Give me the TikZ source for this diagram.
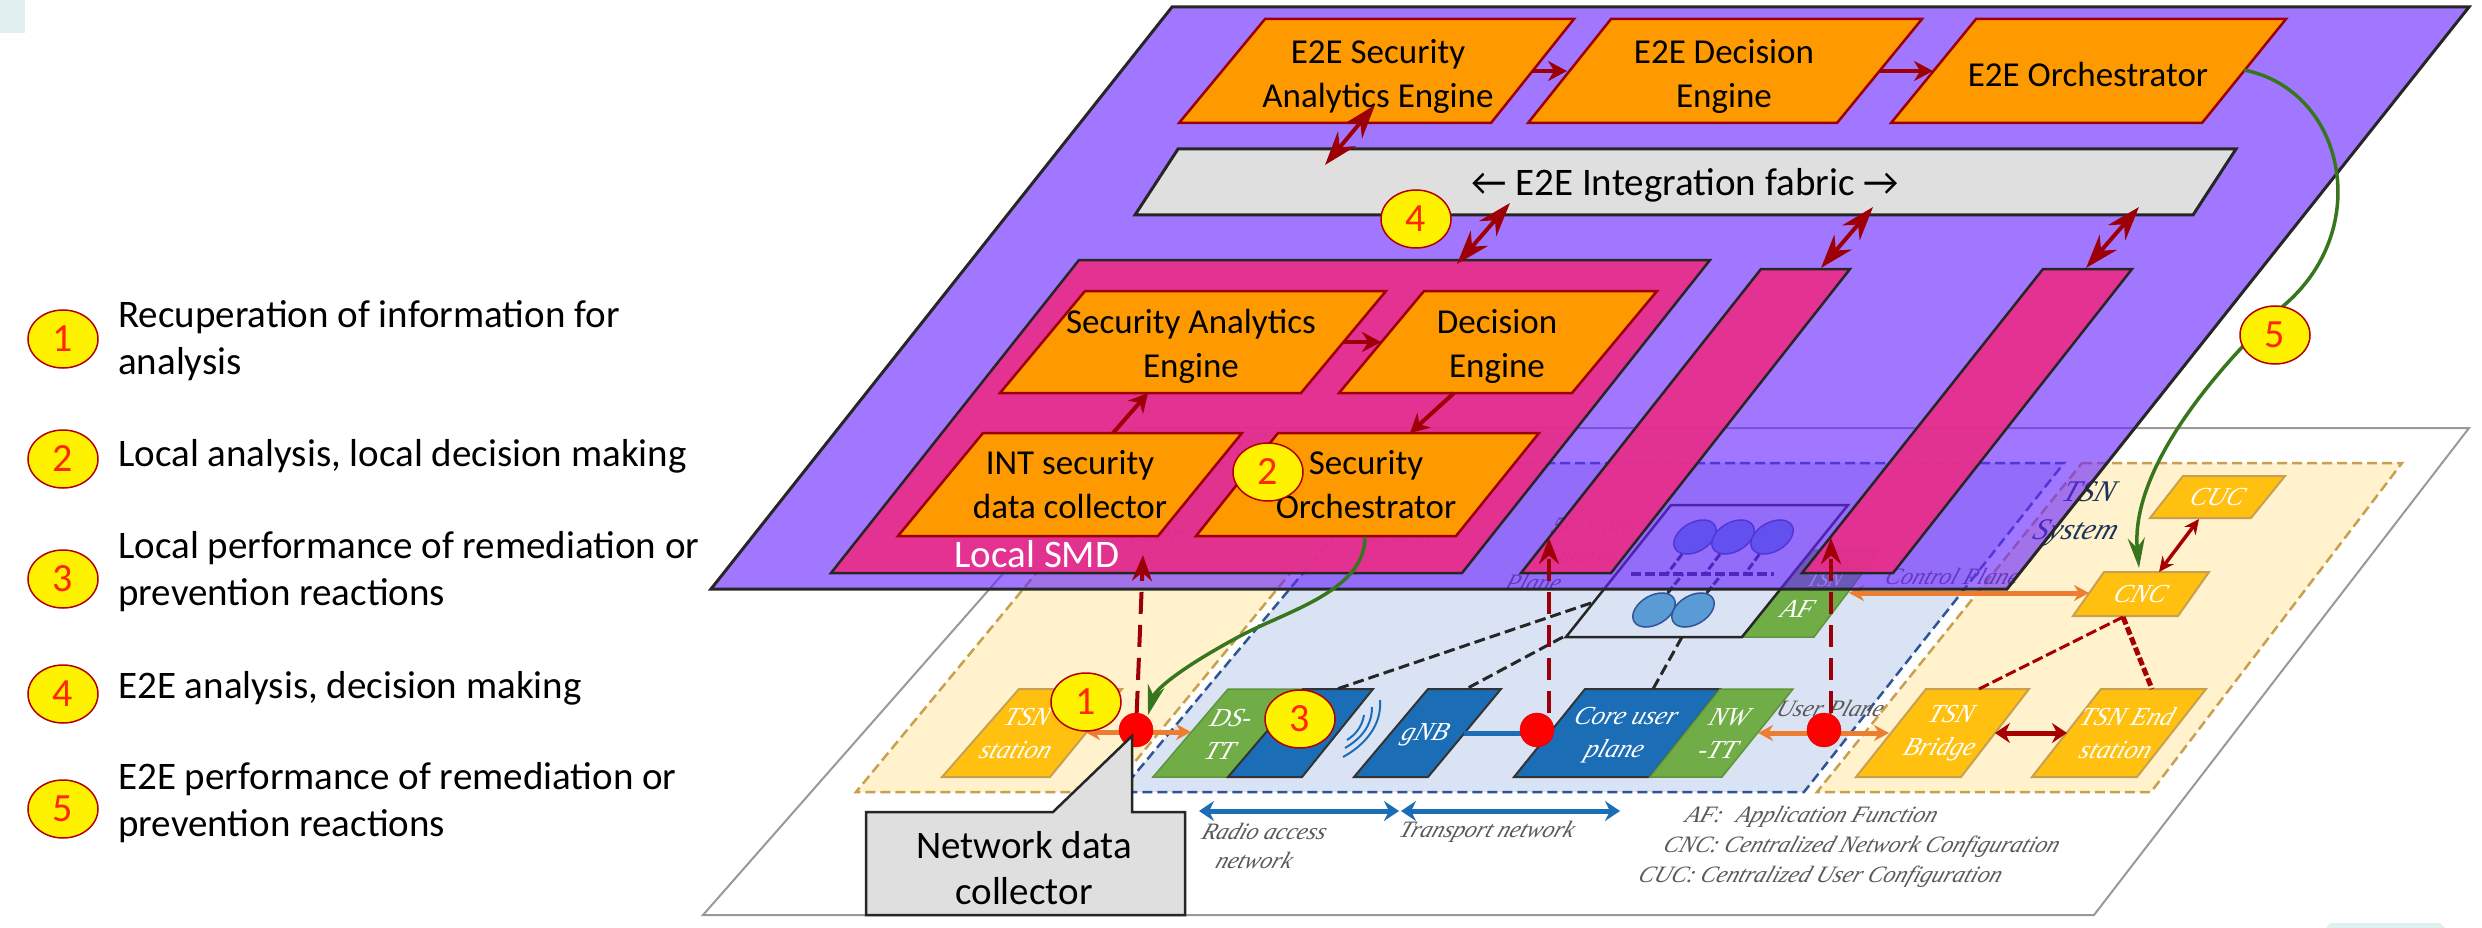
\documentclass[tikz,border=0pt]{standalone}
\usepackage{fontspec}
\setmainfont{Carlito}
\newfontfamily\lowfont{Liberation Serif}
\usetikzlibrary{arrows.meta,shapes.geometric}
\definecolor{plateviolet}{HTML}{6924FF}
\definecolor{smdpink}{HTML}{E72E8B}
\definecolor{engineorange}{HTML}{FF9900}
\definecolor{arrowred}{HTML}{9C0006}
\definecolor{tsnyellow}{HTML}{FFC010}
\definecolor{tsnpale}{HTML}{FFF2CC}
\definecolor{tsnline}{HTML}{C9A04F}
\definecolor{netpale}{HTML}{DAE3F3}
\definecolor{netline}{HTML}{2F5597}
\definecolor{netblue}{HTML}{1B6EB5}
\definecolor{netgreen}{HTML}{70AD47}
\definecolor{linkorange}{HTML}{ED7D31}
\definecolor{curvegreen}{HTML}{38761D}
\definecolor{fabricgrey}{HTML}{DFDFDF}
\definecolor{cpfblue}{HTML}{5B9BD5}
\tikzset{
  uptext/.style={font=\fontsize{35}{44}\selectfont, align=center, inner sep=0pt},
  legendtext/.style={font=\fontsize{39}{47}\selectfont, align=left, inner sep=0pt, anchor=west},
  lowtext/.style={font=\lowfont\itshape\fontsize{26}{33}\selectfont, align=center, inner sep=0pt, text=white, xslant=0.35, transform shape},
  greytext/.style={lowtext, font=\lowfont\itshape\fontsize{23.5}{29}\selectfont, text=black!65},
  engine/.style={draw=arrowred, fill=engineorange, line width=2.5pt},
  smdbox/.style={draw=black!85, fill=smdpink, fill opacity=0.94, line width=2.5pt},
  badge/.style={draw=red!70!black, fill=yellow, shape=ellipse, line width=1.5pt, minimum width=70pt, minimum height=58pt, inner sep=0pt, text=red!85!yellow, font=\fontsize{40}{40}\selectfont},
  probe/.style={draw=red!85!black, fill=red, shape=circle, minimum size=34pt, inner sep=0pt},
  tsnbox/.style={draw=tsnline, fill=tsnyellow, line width=2pt},
  greenbox/.style={fill=netgreen, draw=netgreen!85!black, line width=1.5pt},
  bluebox/.style={fill=netblue, draw=black!80, line width=2pt},
  cpf/.style={draw=netline, fill=cpfblue, shape=ellipse, line width=1.5pt, minimum width=46pt, minimum height=29pt, inner sep=0pt, rotate=30},
  uplink/.style={draw=arrowred, line width=4pt, -{Stealth[length=19pt,width=20pt]}},
  duplex/.style={draw=arrowred, line width=4pt, {Stealth[length=34pt,width=23pt]}-{Stealth[length=34pt,width=23pt]}},
  probeup/.style={draw=arrowred, line width=4pt, dash pattern=on 22pt off 11pt, -{Stealth[length=26pt,width=20pt]}},
  greencurve/.style={draw=curvegreen, line width=3.5pt, -{Stealth[length=30pt,width=17pt]}},
  orangelink/.style={draw=linkorange, line width=5pt, {Stealth[length=15pt,width=16pt]}-{Stealth[length=15pt,width=16pt]}},
  bluelink/.style={draw=netblue, line width=5pt, {Stealth[length=15pt,width=20pt]}-{Stealth[length=15pt,width=20pt]}},
  redlink/.style={draw=red!65!black, line width=5pt, {Stealth[length=15pt,width=20pt]}-{Stealth[length=15pt,width=20pt]}},
  blackdash/.style={draw=black!85, line width=3pt, dash pattern=on 11pt off 5pt},
  busdash/.style={draw=netline!60!black, line width=3pt, dash pattern=on 8pt off 3pt},
}
\begin{document}
\begin{tikzpicture}
  \begin{scope}[x=1pt, y=-1pt]
    \useasboundingbox (0,0) rectangle (2482,928);

    % Corners
    \fill[teal!12] (0,0) rectangle (25,33);
    \fill[teal!12] (2326,928) -- (2330,923) -- (2440,923) -- (2445,928) -- cycle;

    % Lower plate
    \draw[draw=black!40, line width=2pt, fill=white] (1131,428) -- (2469,428) -- (2094,915) -- (703,915) -- cycle;
    \draw[tsnline, line width=2.5pt, dash pattern=on 10pt off 5pt, fill=tsnpale] (1127,463) -- (1381,463) -- (1110,792) -- (856,792) -- cycle;
    \draw[netline, line width=2.5pt, dash pattern=on 10pt off 5pt, fill=netpale] (1395,463) -- (2064,463) -- (1804,792) -- (1120,792) -- cycle;
    \draw[tsnline, line width=2.5pt, dash pattern=on 10pt off 5pt, fill=tsnpale] (2082,463) -- (2402,463) -- (2151,792) -- (1817,792) -- cycle;

    % Lower boxes
    \draw[tsnbox] (1019,689) -- (1122,689) -- (1050,777) -- (942,777) -- cycle;
    \draw[greenbox] (1228,689) -- (1303,689) -- (1228,777) -- (1153,777) -- cycle;
    \draw[bluebox] (1303,689) -- (1373,689) -- (1302,777) -- (1228,777) -- cycle;
    \draw[bluebox] (1428,689) -- (1501,689) -- (1428,777) -- (1354,777) -- cycle;
    \draw[bluebox] (1585,689) -- (1720,689) -- (1650,777) -- (1514,777) -- cycle;
    \draw[greenbox] (1720,689) -- (1793,689) -- (1722,777) -- (1650,777) -- cycle;
    \draw[tsnbox] (1926,689) -- (2029,689) -- (1961,777) -- (1856,777) -- cycle;
    \draw[tsnbox] (2101,689) -- (2206,689) -- (2137,777) -- (2032,777) -- cycle;
    \draw[tsnbox] (2104,572) -- (2209,572) -- (2178,616) -- (2073,616) -- cycle;
    \draw[tsnbox] (2183,476) -- (2285,476) -- (2251,518) -- (2150,518) -- cycle;
    \draw[greenbox] (1812,550) -- (1880,550) -- (1814,637) -- (1742,637) -- cycle;
    \draw[black!85, line width=2.5pt] (1671,505) -- (1848,505) -- (1742,637) -- (1566,637) -- cycle;

    % Core control
    \node[cpf] (af1) at (1695,537) {};
    \node[cpf] (af2) at (1733,537) {};
    \node[cpf] (af3) at (1772,537) {};
    \node[cpf] (af4) at (1654,610) {};
    \node[cpf] (af5) at (1693,610) {};
    \coordinate (busL) at (1631,574);
    \coordinate (busR) at (1774,574);
    \draw[busdash, line width=4pt, dash pattern=on 10pt off 4pt] (busL) -- (busR);
    \draw[busdash] (af1) -- (1667,574);
    \draw[busdash] (af2) -- (1705,574);
    \draw[busdash] (af3) -- (1745,574);
    \draw[busdash] (af4) -- (1683,574);
    \draw[busdash] (af5) -- (1722,574);

    % Lower texts
    \node[lowtext] (tsnstation) at (1022,734) {TSN\\station};
    \node[lowtext] (dstt) at (1226,734) {DS-\\TT};
    \node[lowtext] (gnb) at (1425,735) {gNB};
    \node[lowtext] (coreplane) at (1620,735) {Core user\\plane};
    \node[lowtext] (nwtt) at (1724,733) {NW\\-TT};
    \node[lowtext] (bridge) at (1945,733) {TSN\\Bridge};
    \node[lowtext] (endst) at (2122,733) {TSN End\\station};
    \node[lowtext] (cnc) at (2141,594) {CNC};
    \node[lowtext] (cuc) at (2218,497) {CUC};
    \node[lowtext] (af) at (1798,609) {AF};
    \node[lowtext, font=\lowfont\itshape\fontsize{20}{20}\selectfont] (tsnaf) at (1825,580) {TSN};
    \node[greytext, font=\lowfont\itshape\fontsize{30}{38}\selectfont, text=netline!60!black] (tsnsys) at (2082,514) {TSN\\System};
    \node[greytext, text=netline!60!black] (sysa) at (1150,536) {System};
    \node[greytext, text=netline!60!black] (sysb) at (1400,536) {System};
    \node[greytext] (g5core) at (1588,540) {5G Core\\control};
    \node[greytext] (planea) at (1534,582) {Plane};
    \node[greytext] (cplane) at (1953,576) {Control Plane};
    \node[greytext] (uplane) at (1831,708) {User Plane};
    \node[greytext] (ran) at (1260,846) {Radio access\\network};
    \node[greytext] (tnet) at (1487,832) {Transport network};
    \node[greytext, anchor=west] (lega) at (1686,817) {AF:\hspace{14pt}Application Function};
    \node[greytext, anchor=west] (legb) at (1664,847) {CNC: Centralized Network Configuration};
    \node[greytext, anchor=west] (legc) at (1639,877) {CUC: Centralized User Configuration};

    % Lower links
    \coordinate (ranL) at (1199,811);
    \coordinate (ranR) at (1399,811);
    \coordinate (tnL) at (1401,811);
    \coordinate (tnR) at (1620,811);
    \draw[bluelink] (ranL) -- (ranR);
    \draw[bluelink] (tnL) -- (tnR);
    \coordinate (gnbE) at (1464,733);
    \coordinate (coreW) at (1537,733);
    \draw[netblue, line width=5pt] (gnbE) -- (coreW);
    \coordinate (stE) at (1085,732);
    \coordinate (dsW) at (1191,732);
    \draw[orangelink] (stE) -- (dsW);
    \coordinate (nwE) at (1758,733);
    \coordinate (brW) at (1889,733);
    \draw[orangelink] (nwE) -- (brW);
    \coordinate (afE) at (1849,593);
    \coordinate (cncW) at (2089,593);
    \draw[orangelink] (afE) -- (cncW);
    \coordinate (brE) at (1995,733);
    \coordinate (endW) at (2067,733);
    \draw[redlink] (brE) -- (endW);
    \coordinate (cncN) at (2159,572);
    \coordinate (cucS) at (2199,519);
    \draw[draw=red!65!black, line width=3.5pt, {Stealth[length=15pt,width=14pt]}-{Stealth[length=15pt,width=14pt]}] (cncN) -- (cucS);
    \coordinate (cncS) at (2123,617);
    \coordinate (brN) at (1979,689);
    \coordinate (endN) at (2152,689);
    \draw[draw=red!65!black, line width=3pt, dash pattern=on 11pt off 4pt] (cncS) -- (brN);
    \draw[draw=red!65!black, line width=5pt, dash pattern=on 8pt off 3pt] (cncS) -- (endN);
    \coordinate (ctlA) at (1591,603);
    \coordinate (dsN) at (1337,689);
    \coordinate (ctlB) at (1563,637);
    \coordinate (gnbN) at (1466,689);
    \coordinate (ctlC) at (1682,637);
    \coordinate (coreN) at (1653,689);
    \draw[blackdash] (ctlA) -- (dsN);
    \draw[blackdash] (ctlB) -- (gnbN);
    \draw[blackdash] (ctlC) -- (coreN);

    % Radio waves
    \draw[netblue, line width=2pt] (1380,700) .. controls (1382,725) and (1365,745) .. (1343,757);
    \draw[netblue, line width=2pt] (1372,707) .. controls (1372,725) and (1362,738) .. (1345,748);
    \draw[netblue, line width=2pt] (1364,715) .. controls (1362,727) and (1355,735) .. (1347,740);

    % Upper plate
    \draw[draw=black!85, line width=3pt, fill=plateviolet, fill opacity=0.62] (1172,7) -- (2469,7) -- (2007,589) -- (711,589) -- cycle;
    \draw[smdbox] (1079,260) -- (1710,260) -- (1462,573) -- (831,573) -- cycle;
    \draw[smdbox] (1761,269) -- (1850,269) -- (1611,573) -- (1521,573) -- cycle;
    \draw[smdbox] (2043,269) -- (2132,269) -- (1893,573) -- (1802,573) -- cycle;
    \draw[draw=black!85, line width=3pt, fill=fabricgrey] (1178,149) -- (2236,149) -- (2193,215) -- (1135,215) -- cycle;

    % Engines
    \draw[engine] (1265,19) -- (1574,19) -- (1491,123) -- (1179,123) -- cycle;
    \draw[engine] (1611,19) -- (1922,19) -- (1837,123) -- (1528,123) -- cycle;
    \draw[engine] (1976,19) -- (2286,19) -- (2202,123) -- (1891,123) -- cycle;
    \draw[engine] (1085,291) -- (1386,291) -- (1301,393) -- (1000,393) -- cycle;
    \draw[engine] (1424,291) -- (1657,291) -- (1572,393) -- (1339,393) -- cycle;
    \draw[engine] (983,433) -- (1242,433) -- (1158,536) -- (898,536) -- cycle;
    \draw[engine] (1278,433) -- (1539,433) -- (1456,536) -- (1196,536) -- cycle;

    \node[uptext] (e2esec) at (1378,76) {E2E Security\\Analytics Engine};
    \node[uptext] (e2edec) at (1724,76) {E2E Decision\\Engine};
    \node[uptext] (e2eorch) at (2088,74) {E2E Orchestrator};
    \node[uptext, font=\fontsize{39}{44}\selectfont] (fabric) at (1685,185) {← E2E Integration fabric →};
    \node[uptext] (secan) at (1191,346) {Security Analytics\\Engine};
    \node[uptext] (decis) at (1497,346) {Decision\\Engine};
    \node[uptext] (intcol) at (1070,485) {INT security\\data collector};
    \node[uptext] (secorch) at (1366,485) {Security\\Orchestrator};
    \node[uptext, font=\fontsize{39}{44}\selectfont, text=white] (localsmd) at (1037,554) {Local SMD};

    % Upper arrows
    \coordinate (secE) at (1532,71);
    \coordinate (decW) at (1567,71);
    \coordinate (decE) at (1880,71);
    \coordinate (orchW) at (1933,71);
    \coordinate (anE) at (1343,342);
    \coordinate (dcW) at (1381,342);
    \coordinate (intN) at (1113,433);
    \coordinate (anS) at (1148,393);
    \coordinate (dcS) at (1454,393);
    \coordinate (soN) at (1410,433);
    \draw[uplink] (secE) -- (decW);
    \draw[uplink] (decE) -- (orchW);
    \draw[uplink] (anE) -- (dcW);
    \draw[uplink] (intN) -- (anS);
    \draw[uplink] (dcS) -- (soN);

    \coordinate (secS) at (1375,105);
    \coordinate (fabA) at (1325,165);
    \coordinate (fabB) at (1510,203);
    \coordinate (smdN) at (1457,264);
    \coordinate (fabC) at (1873,207);
    \coordinate (slaN) at (1821,268);
    \coordinate (fabD) at (2139,207);
    \coordinate (slbN) at (2086,268);
    \draw[duplex] (secS) -- (fabA);
    \draw[duplex] (fabB) -- (smdN);
    \draw[duplex] (fabC) -- (slaN);
    \draw[duplex] (fabD) -- (slbN);

    % Probes
    \node[probe] (dotA) at (1136,730) {};
    \node[probe] (dotB) at (1537,730) {};
    \node[probe] (dotC) at (1824,730) {};
    \coordinate (smdS) at (1143,555);
    \coordinate (slaS) at (1549,538);
    \coordinate (slbS) at (1831,538);
    \coordinate (dotBup) at (1549,713);
    \coordinate (dotCup) at (1831,713);
    \draw[probeup] (dotA) -- (smdS);
    \draw[probeup] (dotBup) -- (slaS);
    \draw[probeup] (dotCup) -- (slbS);

    % Green curves
    \coordinate (orchE) at (2244,70);
    \coordinate (cncTop) at (2139,568);
    \coordinate (soS) at (1365,537);
    \coordinate (dotTop) at (1148,715);
    \draw[greencurve] (orchE) .. controls (2345,90) and (2375,230) .. (2282,307) .. controls (2215,370) and (2130,470) .. (cncTop);
    \draw[greencurve] (soS) .. controls (1365,590) and (1290,610) .. (1242,635) .. controls (1180,668) and (1155,690) .. (dotTop);

    % Callout
    \draw[draw=black!85, line width=2.5pt, fill=fabricgrey] (866,812) -- (1053,812) -- (1132,736) -- (1132,812) -- (1185,812) -- (1185,915) -- (866,915) -- cycle;
    \node[uptext, font=\fontsize{39}{46}\selectfont] (collector) at (1024,868) {Network data\\collector};

    % Badges
    \node[badge] (b1) at (1086,702) {1};
    \node[badge] (b3) at (1300,719) {3};
    \node[badge] (b2) at (1268,472) {2};
    \node[badge] (b4) at (1416,219) {4};
    \node[badge] (b5) at (2275,335) {5};

    % Legend
    \node[badge] (l1) at (63,339) {1};
    \node[badge] (l2) at (63,459) {2};
    \node[badge] (l3) at (63,579) {3};
    \node[badge] (l4) at (63,694) {4};
    \node[badge] (l5) at (63,809) {5};
    \node[legendtext] (t1) at (118,341) {Recuperation of information for\\analysis};
    \node[legendtext] (t2) at (118,456) {Local analysis, local decision making};
    \node[legendtext] (t3) at (118,572) {Local performance of remediation or\\prevention reactions};
    \node[legendtext] (t4) at (118,688) {E2E analysis, decision making};
    \node[legendtext] (t5) at (118,803) {E2E performance of remediation or\\prevention reactions};
  \end{scope}
\end{tikzpicture}
\end{document}
